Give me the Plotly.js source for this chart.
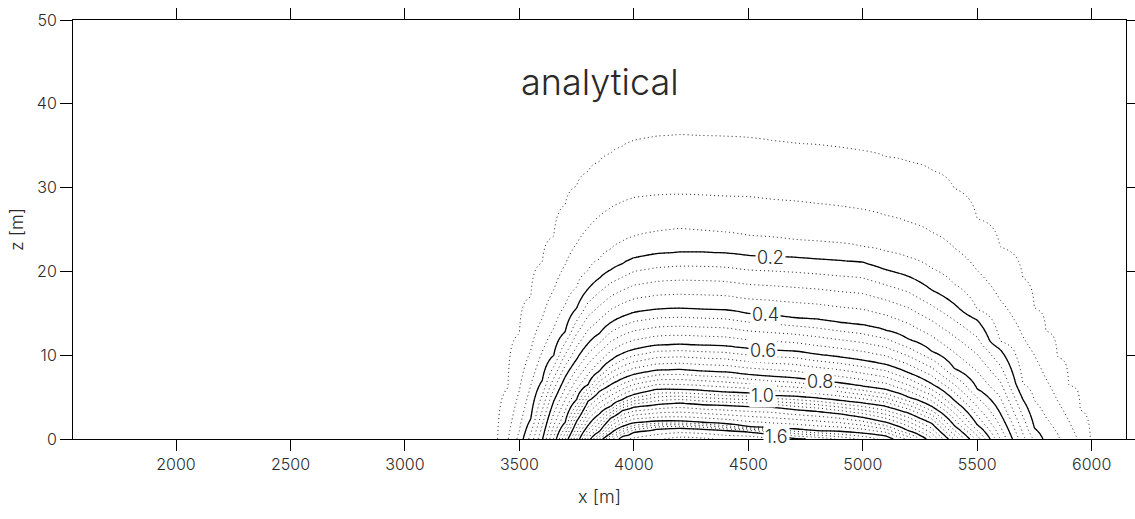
<!DOCTYPE html>
<html>
<head>
<meta charset="utf-8">
<script src="https://cdn.plot.ly/plotly-3.0.1.min.js"></script>
<style>
  html, body { margin: 0; padding: 0; background: #fff; }
  #chart { width: 1135px; height: 519px; }
</style>
</head>
<body>
<div id="chart"></div>
<script>
// ---- Data ----
// x positions (m) of the columns at which contour heights were read
const xStations = [3350, 3400, 3450, 3500, 3550, 3600, 3650, 3700, 3750, 3800, 3850, 3900, 3950, 4000,
  4100, 4200, 4300, 4400, 4500, 4600, 4700, 4800, 4900, 5000, 5100, 5200, 5300, 5400, 5500, 5600, 5700,
  5750, 5800, 5850, 5900, 5950, 6000, 6050];

// value at the ground (z = 0) in each column
const groundValue = [0, 0.045, 0.098, 0.165, 0.27, 0.395, 0.555, 0.75, 0.945, 1.16, 1.35, 1.53, 1.63, 1.66,
  1.69, 1.72, 1.71, 1.69, 1.68, 1.66, 1.61, 1.59, 1.54, 1.49, 1.43, 1.34, 1.16, 0.945, 0.73, 0.50, 0.315,
  0.24, 0.186, 0.157, 0.126, 0.092, 0.045, 0];

// height (m) of each contour level in each column (null = level not present)
const h005 = [null, null, 6.1, 12.6, 17.0, 21.1, 24.2, 28.0, 30.2, 31.9, 33.1, 34.1, 34.9, 35.6,
  36.1, 36.3, 36.2, 36.1, 36.0, 35.6, 35.3, 35.1, 34.8, 34.4, 33.7, 33.1, 32.1, 29.9, 26.3, 22.9, 19.2,
  15.6, 12.9, 9.8, 6.4, 3.5, null, null];
const h010 = [null, null, null, 5.8, 10.6, 14.4, 17.8, 20.8, 23.3, 25.2, 26.6, 27.6, 28.3, 28.8,
  29.1, 29.2, 29.1, 29.0, 28.9, 28.6, 28.4, 28.1, 27.8, 27.4, 26.7, 25.9, 24.7, 22.8, 20.1, 16.6, 12.2,
  10.0, 7.2, 4.6, 2.2, null, null, null];
const h015 = [null, null, null, 1.0, 6.4, 10.4, 13.2, 16.0, 18.1, 20.1, 21.5, 22.7, 23.6, 24.2,
  24.8, 25.1, 24.9, 24.7, 24.3, 24.1, 23.8, 23.6, 23.4, 23.0, 22.4, 21.7, 20.4, 18.5, 15.5, 11.7, 6.6,
  4.6, 2.6, 0.7, null, null, null, null];
const h020 = [null, null, null, null, 2.4, 7.0, 10.0, 12.8, 15.6, 17.9, 19.2, 20.2, 20.9, 21.6,
  22.1, 22.3, 22.3, 22.2, 21.9, 21.8, 21.7, 21.5, 21.3, 21.1, 20.2, 19.4, 17.8, 16.1, 14.2, 10.7, 4.7,
  1.3, null, null, null, null, null, null];
const h040 = [null, null, null, null, null, null, 4.5, 7.4, 9.5, 11.4, 12.6, 13.9, 14.6, 15.1,
  15.5, 15.6, 15.5, 15.4, 15.0, 14.8, 14.5, 14.3, 13.9, 13.6, 13.0, 11.9, 10.5, 8.4, 6.0, 3.1, null,
  null, null, null, null, null, null, null];
const h060 = [null, null, null, null, null, null, null, 2.0, 4.7, 6.5, 8.1, 9.4, 10.2, 10.7,
  11.2, 11.3, 11.2, 11.1, 10.8, 10.6, 10.5, 10.1, 9.8, 9.4, 8.9, 7.9, 6.6, 4.6, 1.7, null, null,
  null, null, null, null, null, null, null];
const h080 = [null, null, null, null, null, null, null, null, 2.1, 4.5, 5.7, 6.5, 7.2, 7.7,
  8.2, 8.3, 8.1, 8.0, 7.7, 7.5, 7.3, 7.0, 6.7, 6.3, 5.9, 5.0, 3.9, 1.6, null, null, null,
  null, null, null, null, null, null, null];
const h100 = [null, null, null, null, null, null, null, null, null, 1.6, 3.0, 3.9, 4.7, 5.3,
  5.9, 5.9, 5.8, 5.6, 5.5, 5.2, 5.1, 4.9, 4.6, 4.3, 3.9, 3.1, 1.9, null, null, null, null,
  null, null, null, null, null, null, null];
const h120 = [null, null, null, null, null, null, null, null, null, null, 0.9, 2.5, 3.4, 3.8,
  4.1, 4.3, 4.1, 4.0, 3.9, 3.8, 3.5, 3.3, 3.0, 2.6, 2.0, 1.0, null, null, null, null, null,
  null, null, null, null, null, null, null];
const h140 = [null, null, null, null, null, null, null, null, null, null, null, 0.7, 1.5, 1.9,
  2.1, 2.1, 2.0, 1.8, 1.5, 1.3, 1.2, 1.0, 0.9, 0.7, 0.4, null, null, null, null, null, null,
  null, null, null, null, null, null, null];
const h160 = [null, null, null, null, null, null, null, null, null, null, null, null, 0.3, 0.8,
  1.2, 1.3, 1.2, 1.0, 0.9, 0.6, 0.1, null, null, null, null, null, null, null, null, null, null,
  null, null, null, null, null, null, null];

const levelValues = [1.6, 1.4, 1.2, 1.0, 0.8, 0.6, 0.4, 0.2, 0.15, 0.1, 0.05];
const levelHeights = [h160, h140, h120, h100, h080, h060, h040, h020, h015, h010, h005];

// contour labels shown on the solid lines
const labelTexts = ['0.2', '0.4', '0.6', '0.8', '1.0', '1.6'];

const xTicks = [2000, 2500, 3000, 3500, 4000, 4500, 5000, 5500, 6000];
const zTicks = [0, 10, 20, 30, 40, 50];

// ---- Build the grid table the contour trace needs from the read column profiles ----
const zTop = 50;
const rows = [];
for (let k = 0; k <= 200; k++) rows.push(k * 0.25);

const grid = rows.map(() => new Array(xStations.length).fill(0));
xStations.forEach((_, j) => {
  const pts = [[0, groundValue[j]]];
  levelHeights.forEach((arr, l) => {
    const h = arr[j];
    if (h !== null && h > pts[pts.length - 1][0]) pts.push([h, levelValues[l]]);
  });
  pts.push([zTop, 0]);
  rows.forEach((h, i) => {
    let v = 0;
    for (let s = 0; s < pts.length - 1; s++) {
      const [h0, v0] = pts[s], [h1, v1] = pts[s + 1];
      if (h >= h0 && h <= h1) { v = v0 + (v1 - v0) * (h - h0) / (h1 - h0); break; }
    }
    grid[i][j] = v;
  });
});

const FONT = 'Inter, Roboto, "DejaVu Sans", sans-serif';
const TXT = '#2a2a2a';

const dotted = {
  type: 'contour', x: xStations, y: rows, z: grid,
  autocontour: false,
  contours: { start: 0.05, end: 1.75, size: 0.05, coloring: 'none' },
  line: { color: '#222', width: 1, dash: '1px,3px' },
  showscale: false, hoverinfo: 'skip'
};
const solid = {
  type: 'contour', x: xStations, y: rows, z: grid,
  autocontour: false,
  contours: { start: 0.2, end: 1.6, size: 0.2, coloring: 'none' },
  line: { color: '#000', width: 1.3 },
  showscale: false, hoverinfo: 'skip'
};

// label placement (text positions only)
const labelPos = [[4595, 21.7], [4573, 14.8], [4564, 10.6], [4814, 6.9], [4560, 5.2], [4625, 0.25]];
const labelAnn = labelTexts.map((t, i) => ({
  x: labelPos[i][0], y: labelPos[i][1], xref: 'x', yref: 'y', text: t, showarrow: false,
  font: { family: FONT, size: 18, color: TXT, weight: 300 },
  bgcolor: '#fff', borderpad: 1
}));

const layout = {
  width: 1135, height: 519,
  margin: { l: 73, r: 9, t: 20, b: 80 },
  paper_bgcolor: '#fff', plot_bgcolor: '#fff',
  showlegend: false,
  font: { family: FONT, color: TXT, weight: 300 },
  xaxis: {
    range: [1550, 6150], tickvals: xTicks, ticktext: xTicks.map(String),
    ticks: 'outside', ticklen: 11, tickwidth: 1, tickcolor: '#000',
    showline: true, linecolor: '#000', linewidth: 1, mirror: 'ticks',
    showgrid: false, zeroline: false,
    tickfont: { family: FONT, size: 16, color: TXT, weight: 300 },
    title: { text: 'x [m]', font: { family: FONT, size: 18, color: TXT, weight: 300 }, standoff: 17 }
  },
  yaxis: {
    range: [0, 50], tickvals: zTicks, ticktext: zTicks.map(String),
    ticks: 'outside', ticklen: 12, tickwidth: 1, tickcolor: '#000',
    showline: true, linecolor: '#000', linewidth: 1, mirror: 'ticks',
    showgrid: false, zeroline: false,
    tickfont: { family: FONT, size: 16, color: TXT, weight: 300 },
    title: { text: 'z [m]', font: { family: FONT, size: 18, color: TXT, weight: 300 }, standoff: 8 }
  },
  annotations: [
    { text: 'analytical', xref: 'paper', yref: 'paper', x: 0.5, y: 0.852,
      xanchor: 'center', yanchor: 'middle', showarrow: false,
      font: { family: FONT, size: 36, color: TXT, weight: 300 } },
    ...labelAnn
  ]
};

Plotly.newPlot('chart', [dotted, solid], layout, { displayModeBar: false, staticPlot: true });
</script>
</body>
</html>
